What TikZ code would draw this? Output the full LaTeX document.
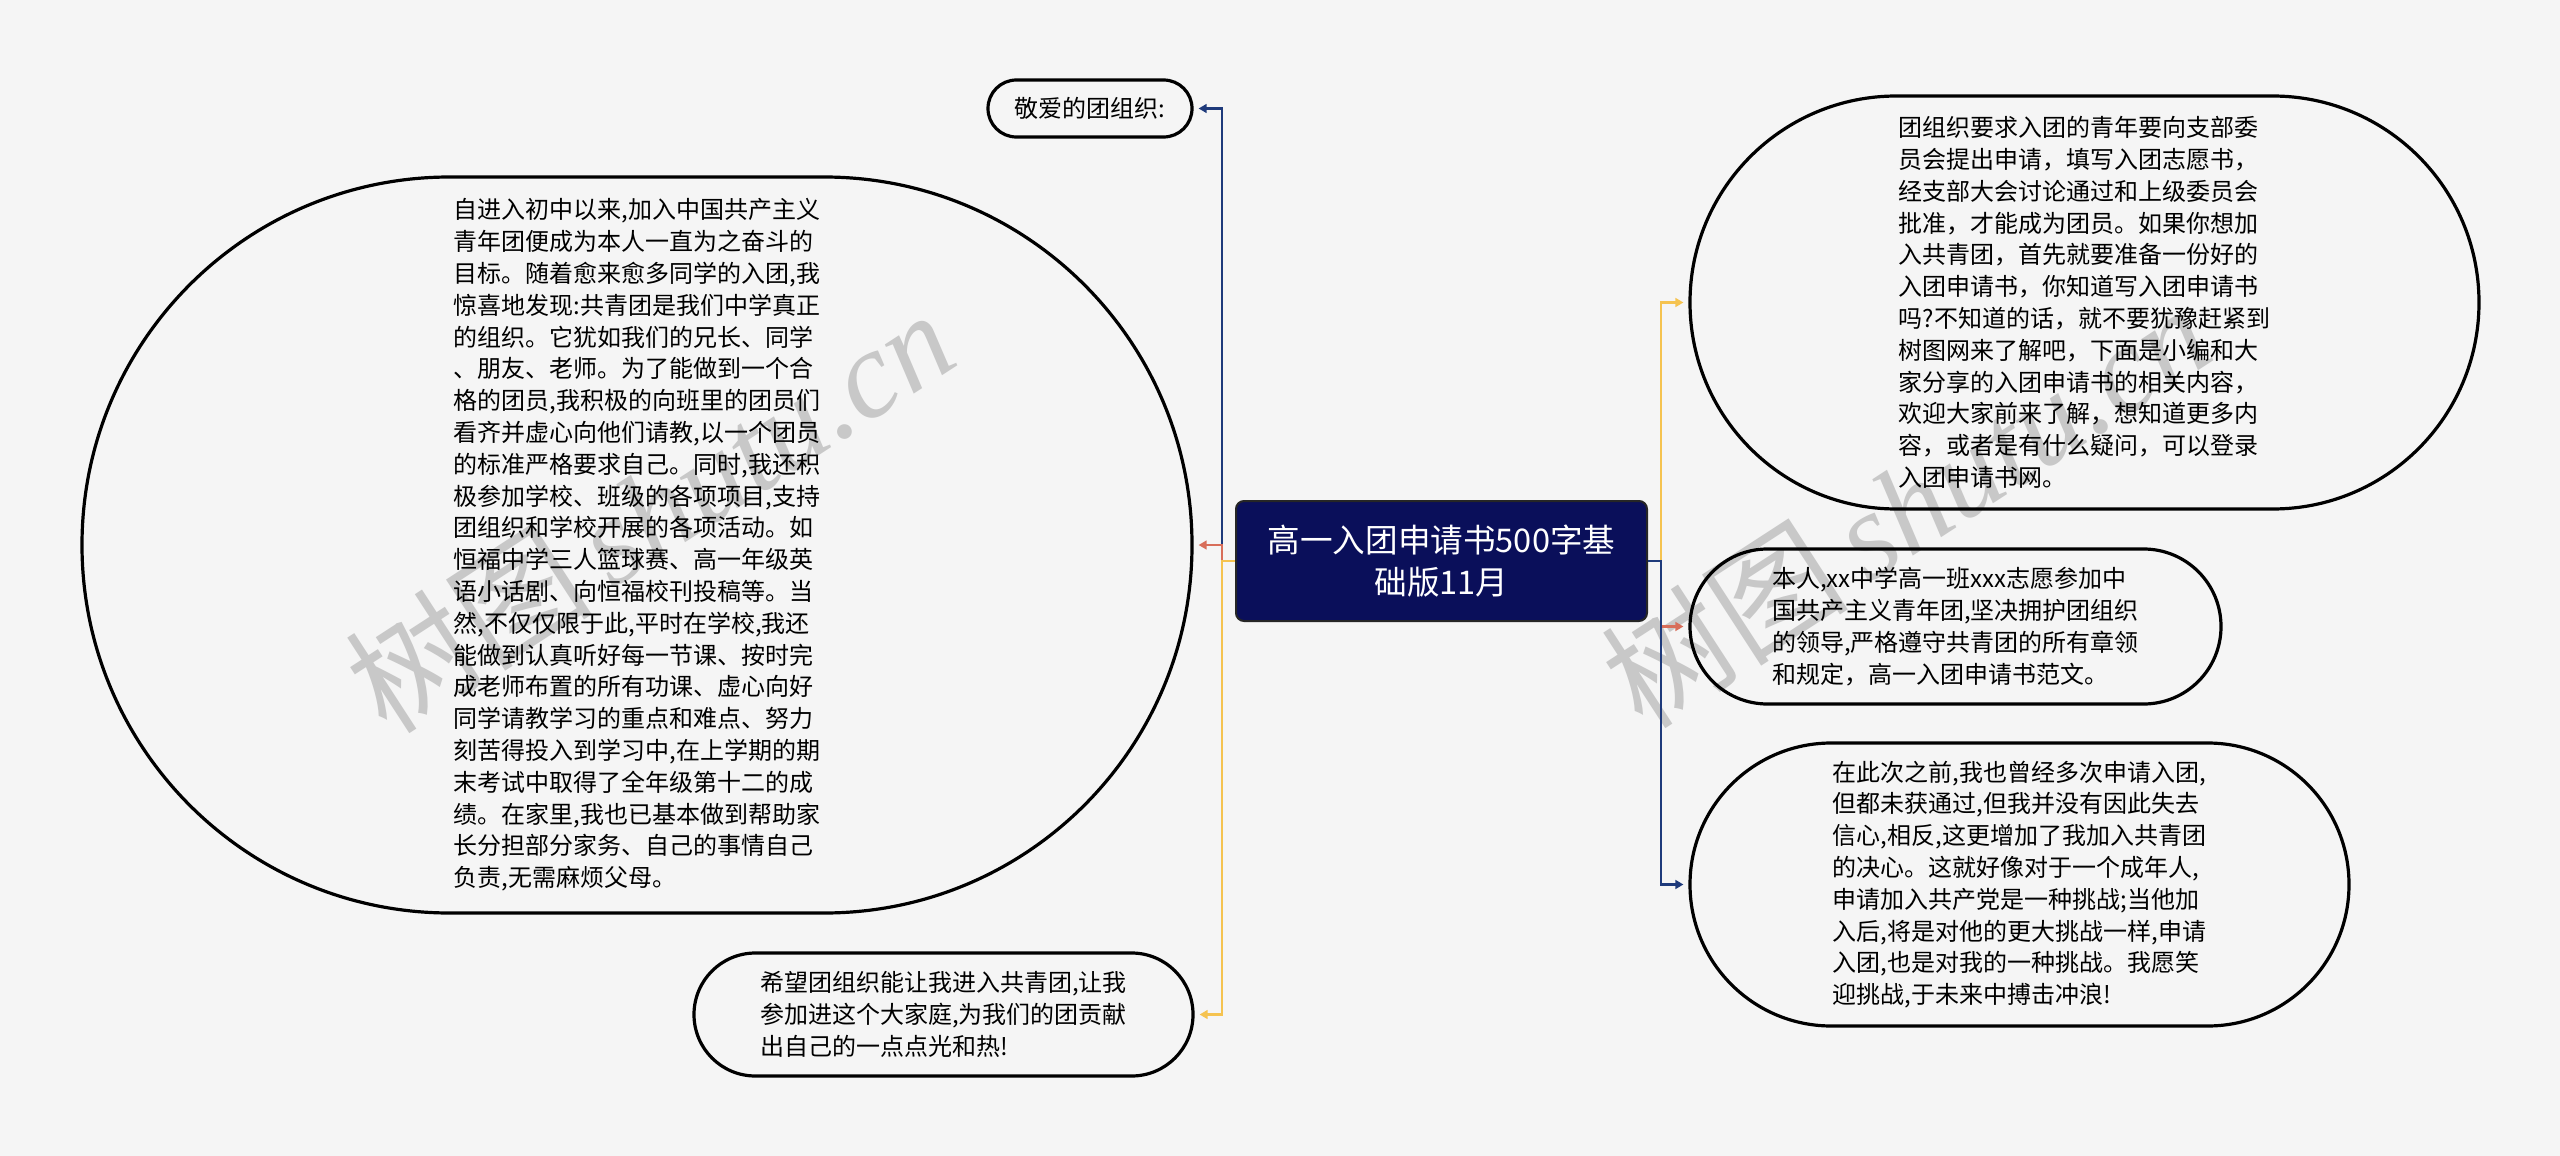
\documentclass[tikz,border=0pt]{standalone}
\usepackage{fontspec}
\setmainfont{Noto Sans CJK SC}
\newfontfamily\wmserif{Liberation Serif}
\usetikzlibrary{arrows.meta}
\definecolor{bg}{HTML}{F5F5F5}
\definecolor{rootfill}{HTML}{0A0F5A}
\definecolor{cblue}{HTML}{1E3A7B}
\definecolor{cred}{HTML}{D86E5A}
\definecolor{cyel}{HTML}{F5C350}
\definecolor{wmgray}{HTML}{C8C8C8}
\tikzset{
  leaf/.style={draw=black, line width=1.6pt, align=left, inner sep=0pt,
    font=\fontsize{12pt}{15.9pt}\selectfont},
  rootbox/.style={draw=black!85, fill=rootfill, text=white, line width=1pt,
    rounded corners=4pt, align=center, inner sep=0pt,
    font=\fontsize{16.3pt}{21pt}\selectfont},
  conn/.style={line width=1.35pt, -{Triangle[length=4pt,width=4.4pt]}, shorten >=2.5pt},
  wmark/.style={text=wmgray, rotate=33, inner sep=0pt, font=\fontsize{62pt}{62pt}\selectfont}
}
\begin{document}
\begin{tikzpicture}[x=0.5pt,y=-0.5pt]
\fill[bg] (0,0) rectangle (2560,1156);
\useasboundingbox (0,0) rectangle (2560,1156);
% watermarks
\node[wmark] (wm1) at (649,510) {树图\,{\wmserif\itshape shutu.cn}};
\node[wmark] (wm2) at (1905,505) {树图\,{\wmserif\itshape shutu.cn}};
% root
\node[rootbox, minimum width=205.5pt, minimum height=60pt] (root) at (1441.5,561)
  {高一入团申请书500字基\\础版11月};
% left nodes
\node[leaf, minimum width=102pt, minimum height=28.5pt, rounded corners=14.2pt] (n1) at (1090,108.5)
  {敬爱的团组织:};
\node[leaf, minimum width=555pt, minimum height=368pt, rounded corners=183.9pt] (n2) at (637,545)
  {自进入初中以来,加入中国共产主义\\
   青年团便成为本人一直为之奋斗的\\
   目标。随着愈来愈多同学的入团,我\\
   惊喜地发现:共青团是我们中学真正\\
   的组织。它犹如我们的兄长、同学\\
   、朋友、老师。为了能做到一个合\\
   格的团员,我积极的向班里的团员们\\
   看齐并虚心向他们请教,以一个团员\\
   的标准严格要求自己。同时,我还积\\
   极参加学校、班级的各项项目,支持\\
   团组织和学校开展的各项活动。如\\
   恒福中学三人篮球赛、高一年级英\\
   语小话剧、向恒福校刊投稿等。当\\
   然,不仅仅限于此,平时在学校,我还\\
   能做到认真听好每一节课、按时完\\
   成老师布置的所有功课、虚心向好\\
   同学请教学习的重点和难点、努力\\
   刻苦得投入到学习中,在上学期的期\\
   末考试中取得了全年级第十二的成\\
   绩。在家里,我也已基本做到帮助家\\
   长分担部分家务、自己的事情自己\\
   负责,无需麻烦父母。};
\node[leaf, minimum width=249.5pt, minimum height=61.5pt, rounded corners=30.7pt] (n3) at (943.5,1014.5)
  {希望团组织能让我进入共青团,让我\\
   参加进这个大家庭,为我们的团贡献\\
   出自己的一点点光和热!};
% right nodes
\node[leaf, minimum width=394.5pt, minimum height=206.5pt, rounded corners=103.2pt] (n4) at (2084.5,302.5)
  {团组织要求入团的青年要向支部委\\
   员会提出申请，填写入团志愿书，\\
   经支部大会讨论通过和上级委员会\\
   批准，才能成为团员。如果你想加\\
   入共青团，首先就要准备一份好的\\
   入团申请书，你知道写入团申请书\\
   吗?不知道的话，就不要犹豫赶紧到\\
   树图网来了解吧，下面是小编和大\\
   家分享的入团申请书的相关内容，\\
   欢迎大家前来了解，想知道更多内\\
   容，或者是有什么疑问，可以登录\\
   入团申请书网。};
\node[leaf, minimum width=265.5pt, minimum height=77.5pt, rounded corners=38.7pt] (n5) at (1955.5,626.5)
  {本人,xx中学高一班xxx志愿参加中\\
   国共产主义青年团,坚决拥护团组织\\
   的领导,严格遵守共青团的所有章领\\
   和规定，高一入团申请书范文。};
\node[leaf, minimum width=329.5pt, minimum height=141.5pt, rounded corners=70.7pt] (n6) at (2019.5,884.5)
  {在此次之前,我也曾经多次申请入团,\\
   但都未获通过,但我并没有因此失去\\
   信心,相反,这更增加了我加入共青团\\
   的决心。这就好像对于一个成年人,\\
   申请加入共产党是一种挑战;当他加\\
   入后,将是对他的更大挑战一样,申请\\
   入团,也是对我的一种挑战。我愿笑\\
   迎挑战,于未来中搏击冲浪!};
% trunks
\coordinate (lt) at (1222,561);
\coordinate (rt) at (1661,561);
% left connectors
\draw[conn, cblue] (root.west) -- (lt) |- (n1.east);
\draw[conn, cred] (root.west) -- (lt) |- (n2.east);
\draw[conn, cyel] (root.west) -- (lt) |- (n3.east);
% right connectors
\draw[conn, cyel] (root.east) -- (rt) |- (n4.west);
\draw[conn, cred] (root.east) -- (rt) |- (n5.west);
\draw[conn, cblue] (root.east) -- (rt) |- (n6.west);
\end{tikzpicture}
\end{document}
